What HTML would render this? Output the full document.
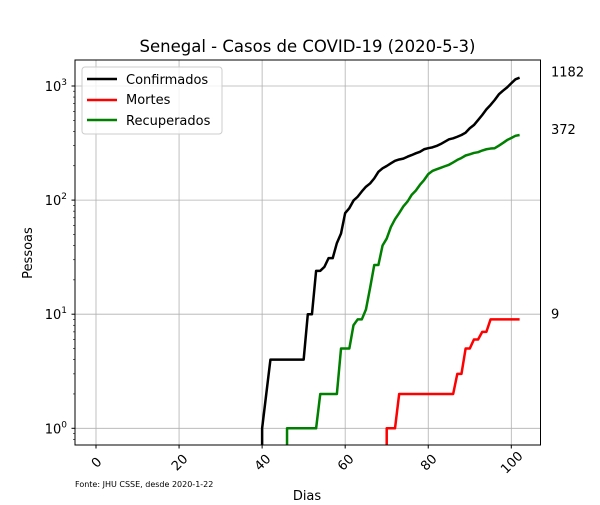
<!DOCTYPE html>
<html><head><meta charset="utf-8"><style>
body{margin:0;background:#fff}
svg text{font-family:"DejaVu Sans","Liberation Sans",sans-serif}
</style></head><body>
<svg id="chart" width="600" height="500" xmlns="http://www.w3.org/2000/svg">
<rect width="600" height="500" fill="#fff"/>
<text x="307.5" y="52" font-size="16.5" text-anchor="middle">Senegal - Casos de COVID-19 (2020-5-3)</text>
<g id="grid"></g>
<g id="series"></g>
<rect x="75" y="60" width="465.5" height="385" fill="none" stroke="#000" stroke-width="1"/>
<g id="axes"></g>
<text x="307" y="500" font-size="13" text-anchor="middle">Dias</text>
<text x="32" y="253" font-size="13" text-anchor="middle" transform="rotate(-90 32 253)">Pessoas</text>
<text x="75" y="487" font-size="8">Fonte: JHU CSSE, desde 2020-1-22</text>
<g>
<rect x="82" y="67" width="140" height="67" rx="3" fill="#fff" fill-opacity="0.8" stroke="#ccc"/>
<line x1="87" y1="79" x2="117" y2="79" stroke="#000" stroke-width="2.5"/>
<text x="126" y="84" font-size="13">Confirmados</text>
<line x1="87" y1="100" x2="117" y2="100" stroke="#ff0000" stroke-width="2.5"/>
<text x="126" y="104" font-size="13">Mortes</text>
<line x1="87" y1="120" x2="117" y2="120" stroke="#008000" stroke-width="2.5"/>
<text x="126" y="125" font-size="13">Recuperados</text>
</g>
<g id="endlabels"></g>
</svg>
<script>
const xTicks=[0,20,40,60,80,100];
const yDecades=[0,1,2,3];
const confirmedStart=40;
const confirmed=[1,2,4,4,4,4,4,4,4,4,4,10,10,24,24,26,31,31,42,51,77,85,99,107,119,131,140,155,177,190,199,210,221,227,231,240,248,257,265,279,285,290,298,310,325,341,348,359,372,390,426,455,503,557,624,682,754,845,910,973,1057,1145,1182];
const recoveredStart=46;
const recovered=[1,1,1,1,1,1,1,1,2,2,2,2,2,5,5,5,8,9,9,11,17,27,27,40,46,58,68,77,88,97,111,121,136,150,169,180,186,192,198,204,214,225,234,246,252,259,263,272,279,283,285,300,317,336,350,366,372];
const deathsStart=70;
const deaths=[1,1,1,2,2,2,2,2,2,2,2,2,2,2,2,2,2,3,3,5,5,6,6,7,7,9,9,9,9,9,9,9,9];
const L=75,R=540.5,T=60,B=445;
const X=d=>96+(511.3-96)*d/100;
const Y=v=>428.3-114.1*Math.log10(v);
const NS="http://www.w3.org/2000/svg";
function mk(tag,attrs,parent){const e=document.createElementNS(NS,tag);for(const k in attrs)e.setAttribute(k,attrs[k]);document.getElementById(parent).appendChild(e);return e;}
xTicks.forEach(t=>{
 const g=mk('line',{x1:X(t),x2:X(t),y1:T,y2:B,stroke:'#b0b0b0','stroke-width':0.8},'grid');
 
 
 const tk=mk('line',{x1:X(t),x2:X(t),y1:B,y2:B+3.5,stroke:'#000'},'axes');
 
 
 const tx=mk('text',{x:X(t),y:B+22,'font-size':13,'text-anchor':'middle',transform:`rotate(-45 ${X(t)} ${B+17})`},'axes');
 tx.textContent=t;
 
 
});
yDecades.forEach(p=>{
 const y=Y(Math.pow(10,p));
 const g=mk('line',{x1:L,x2:R,y1:y,y2:y,stroke:'#b0b0b0','stroke-width':0.8},'grid');
 
 
 const tk=mk('line',{x1:L-3.5,x2:L,y1:y,y2:y,stroke:'#000'},'axes');
 
 
 const tx=mk('text',{x:L-8,y:y+5,'font-size':13,'text-anchor':'end'},'axes');
 tx.innerHTML='10<tspan dy="-6" font-size="9">'+p+'</tspan>';
 
 
});
for(let p=-1;p<=3;p++){for(let m=2;m<=9;m++){const v=m*Math.pow(10,p);const y=Y(v);if(y<T||y>B)continue;
 const tk=mk('line',{x1:L-2,x2:L,y1:y,y2:y,stroke:'#000','stroke-width':0.6},'axes');
 
 }}
function series(start,vals,color,name){
 let d=`M${X(start)},${B} `;
 vals.forEach((v,i)=>{d+=`L${X(start+i)},${Y(v)} `;});
 const p=mk('path',{d:d,fill:'none',stroke:color,'stroke-width':2.5,'stroke-linejoin':'round'},'series');
 
 
 const last=vals[vals.length-1];
 const t=mk('text',{x:551,y:Y(last)-1,'font-size':13},'endlabels');
 t.textContent=last;
 
 
}
series(confirmedStart,confirmed,'#000','confirmados-line');
series(deathsStart,deaths,'#ff0000','mortes-line');
series(recoveredStart,recovered,'#008000','recuperados-line');
</script>
</body></html>
